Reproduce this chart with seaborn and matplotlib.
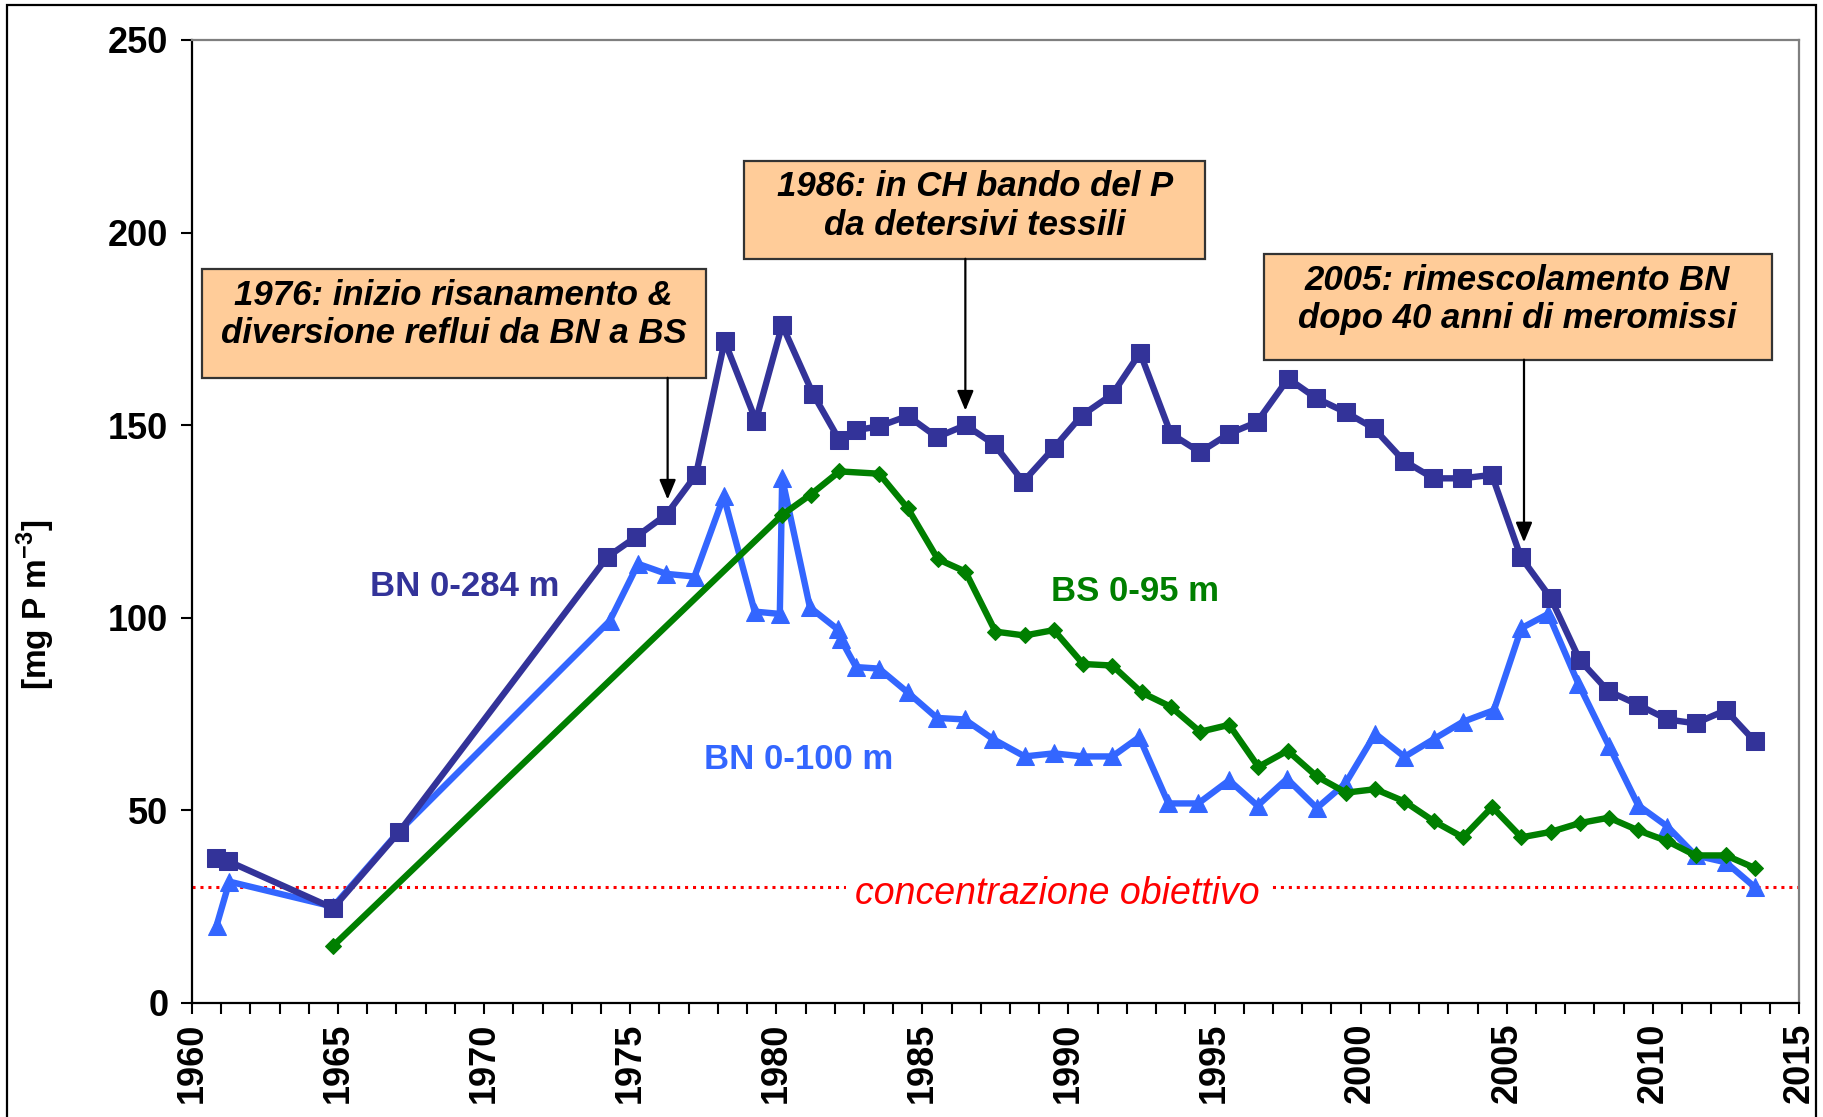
import matplotlib
matplotlib.use("Agg")
import numpy as np
import pandas as pd
import seaborn as sns
import matplotlib.pyplot as plt
from matplotlib.patches import Rectangle
from matplotlib.ticker import MultipleLocator

# ---------------- data ----------------
years_bn284 = [1960.82, 1961.24, 1964.83, 1967.08, 1974.22, 1975.2, 1976.24, 1977.25,
               1978.23, 1979.3, 1980.2, 1981.25, 1982.16, 1982.73, 1983.52, 1984.5,
               1985.5, 1986.48, 1987.46, 1988.45, 1989.5, 1990.45, 1991.5, 1992.45,
               1993.5, 1994.5, 1995.5, 1996.45, 1997.52, 1998.48, 1999.5, 2000.45,
               2001.47, 2002.49, 2003.47, 2004.49, 2005.48, 2006.5, 2007.5, 2008.47,
               2009.5, 2010.5, 2011.46, 2012.5, 2013.48]
values_bn284 = [37.7, 36.8, 24.6, 44.3, 115.8, 121.0, 126.8, 137.1,
                171.8, 151.2, 176.0, 158.2, 146.1, 148.7, 149.7, 152.4,
                146.9, 150.0, 145.0, 135.3, 144.1, 152.5, 158.0, 168.8,
                147.8, 143.0, 147.8, 150.8, 162.1, 157.0, 153.3, 149.2,
                140.8, 136.2, 136.2, 137.1, 115.8, 105.2, 89.0, 81.0,
                77.4, 73.6, 72.6, 76.0, 68.0]

years_bn100 = [1960.84, 1961.28, 1964.83, 1967.08, 1974.3, 1975.27, 1976.24, 1977.2,
               1978.2, 1979.26, 1980.12, 1980.2, 1981.15, 1982.1, 1982.2, 1982.73,
               1983.52, 1984.5, 1985.5, 1986.45, 1987.42, 1988.5, 1989.5, 1990.5,
               1991.5, 1992.42, 1993.42, 1994.44, 1995.5, 1996.47, 1997.48, 1998.5,
               1999.48, 2000.5, 2001.5, 2002.5, 2003.5, 2004.56, 2005.5, 2006.42,
               2007.45, 2008.5, 2009.5, 2010.5, 2011.46, 2012.5, 2013.5]
values_bn100 = [20.0, 31.5, 25.0, 44.5, 99.2, 114.0, 111.4, 110.7,
                131.5, 101.6, 101.0, 136.2, 102.7, 97.0, 94.5, 87.2,
                86.8, 80.6, 74.0, 73.6, 68.5, 64.0, 64.8, 64.0,
                64.0, 69.0, 51.8, 51.8, 57.8, 51.2, 58.2, 50.6,
                57.0, 69.9, 63.9, 68.5, 73.0, 76.0, 97.3, 101.0,
                82.9, 66.7, 51.3, 45.8, 38.3, 36.5, 30.0]

years_bs95 = [1964.83, 1980.2, 1981.18, 1982.16, 1983.52, 1984.5, 1985.53, 1986.47,
              1987.5, 1988.5, 1989.5, 1990.5, 1991.5, 1992.5, 1993.5, 1994.5,
              1995.5, 1996.5, 1997.5, 1998.5, 1999.5, 2000.5, 2001.5, 2002.5,
              2003.5, 2004.5, 2005.5, 2006.5, 2007.5, 2008.5, 2009.5, 2010.5,
              2011.46, 2012.5, 2013.5]
values_bs95 = [14.8, 126.7, 132.0, 138.0, 137.4, 128.4, 115.2, 112.0,
               96.4, 95.4, 96.8, 88.0, 87.6, 80.6, 76.9, 70.4,
               72.2, 61.3, 65.5, 58.8, 54.6, 55.5, 52.3, 47.2,
               43.0, 50.9, 43.0, 44.4, 46.7, 48.1, 44.8, 42.0,
               38.3, 38.3, 35.0]

target_value = 30
x_ticks = list(range(1960, 2016, 5))
y_ticks = list(range(0, 251, 50))

series_labels = ["BN 0-284 m", "BN 0-100 m", "BS 0-95 m"]
target_label = "concentrazione obiettivo"
y_label = r"[mg P m$^{\mathbf{-3}}$]"
notes = ["1976: inizio risanamento &\ndiversione reflui da BN a BS",
         "1986: in CH bando del P\nda detersivi tessili",
         "2005: rimescolamento BN\ndopo 40 anni di meromissi"]

# ---------------- style ----------------
sns.set_style("white")
plt.rcParams['font.family'] = ['Liberation Sans', 'DejaVu Sans']
plt.rcParams['text.color'] = 'black'
plt.rcParams['mathtext.fontset'] = 'custom'
plt.rcParams['mathtext.rm'] = 'Liberation Sans'
plt.rcParams['mathtext.bf'] = 'Liberation Sans:bold'

C_DARK = "#333399"
C_LIGHT = "#3366FF"
C_GREEN = "#007F00"
C_BOX = "#FFCC99"

fig = plt.figure(figsize=(18.23, 11.17), dpi=100)
ax = fig.add_axes([0.1053, 0.1021, 0.8815, 0.8621])

df_light = pd.DataFrame({"year": years_bn100, "value": values_bn100})
df_green = pd.DataFrame({"year": years_bs95, "value": values_bs95})
df_dark = pd.DataFrame({"year": years_bn284, "value": values_bn284})

sns.lineplot(data=df_light, x="year", y="value", ax=ax, color=C_LIGHT, linewidth=4.6,
             marker="^", markersize=13, markeredgecolor=C_LIGHT, estimator=None,
             sort=False, zorder=3)
sns.lineplot(data=df_green, x="year", y="value", ax=ax, color=C_GREEN, linewidth=4.6,
             marker="D", markersize=8, markeredgecolor=C_GREEN, estimator=None,
             sort=False, zorder=4)
sns.lineplot(data=df_dark, x="year", y="value", ax=ax, color=C_DARK, linewidth=4.6,
             marker="s", markersize=13, markeredgecolor=C_DARK, estimator=None,
             sort=False, zorder=5)

ax.axhline(target_value, color="red", linestyle=(0, (1, 1.6)), linewidth=2.2, zorder=2)

ax.set_xlim(1960, 2015)
ax.set_ylim(0, 250)
ax.set_xticks(x_ticks)
ax.set_yticks(y_ticks)
ax.xaxis.set_minor_locator(MultipleLocator(1))
ax.set_xlabel("")
ax.set_ylabel("")
ax.tick_params(axis="x", which="both", direction="out", length=8, width=1.5,
               color="black", labelcolor="black", bottom=True, pad=6)
ax.tick_params(axis="y", which="major", direction="out", length=8, width=1.5,
               color="black", labelcolor="black", left=True, pad=9)
for lab in ax.get_xticklabels():
    lab.set_rotation(90)
    lab.set_fontsize(26)
    lab.set_fontweight("bold")
for lab in ax.get_yticklabels():
    lab.set_fontsize(26)
    lab.set_fontweight("bold")

for s in ["left", "bottom"]:
    ax.spines[s].set_color("black")
    ax.spines[s].set_linewidth(1.6)
for s in ["top", "right"]:
    ax.spines[s].set_color("#7f7f7f")
    ax.spines[s].set_linewidth(1.6)
    ax.spines[s].set_visible(True)

fig.text(36 / 1823, 1 - 605 / 1117, y_label, rotation=90, ha="center", va="center",
         fontsize=24, fontweight="bold", color="black")

# series labels
ax.text(1969.34, 108.1, series_labels[0], color=C_DARK, fontsize=25, fontweight="bold",
        ha="center", va="center")
ax.text(1980.76, 63.3, series_labels[1], color=C_LIGHT, fontsize=25, fontweight="bold",
        ha="center", va="center")
ax.text(1992.28, 106.8, series_labels[2], color=C_GREEN, fontsize=25, fontweight="bold",
        ha="center", va="center")
ax.text(1989.62, 28.3, target_label, color="red", fontsize=27, style="italic",
        ha="center", va="center", zorder=6,
        bbox=dict(boxstyle="square,pad=0.25", facecolor="white", edgecolor="none"))

# annotation boxes
boxes = [
    # x0, x1, y0, y1, text x, text y, arrow x, arrow tip y
    (1960.34, 1977.58, 162.3, 190.6, 1968.96, 178.8, 1976.28, 130.7),
    (1978.91, 1994.68, 193.2, 218.6, 1986.79, 206.9, 1986.47, 153.8),
    (1996.70, 2014.07, 167.0, 194.5, 2005.35, 182.6, 2005.59, 119.6),
]
for (x0, x1, y0, y1, tx, ty, axx, tipy), note in zip(boxes, notes):
    ax.add_patch(Rectangle((x0, y0), x1 - x0, y1 - y0, facecolor=C_BOX,
                           edgecolor="#333333", linewidth=1.6, clip_on=False, zorder=7))
    ax.text(tx, ty, note, ha="center", va="center", fontsize=25, fontweight="bold",
            style="italic", color="black", linespacing=1.2, zorder=8)
    ax.annotate("", xy=(axx, tipy), xytext=(axx, y0),
                arrowprops=dict(arrowstyle="-|>,head_length=0.6,head_width=0.25",
                                color="black", lw=1.6, mutation_scale=20,
                                shrinkA=0, shrinkB=0),
                zorder=8)

# outer frame of the figure
fig.patches.append(Rectangle((7 / 1823, -0.01), (1816 - 7) / 1823, 1.01 - 5 / 1117,
                             transform=fig.transFigure, fill=False, edgecolor="black",
                             linewidth=1.6))

fig.savefig("out.png", dpi=100)
